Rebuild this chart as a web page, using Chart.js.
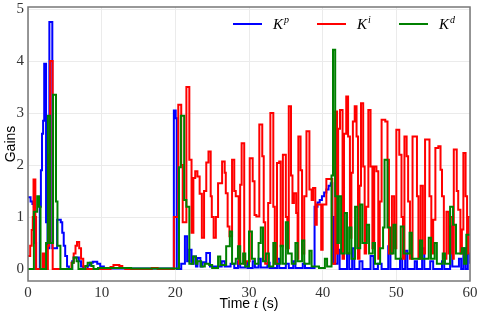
<!DOCTYPE html>
<html>
<head>
<meta charset="utf-8">
<script src="https://cdn.jsdelivr.net/npm/chart.js@4"></script>
<style>
  html, body { margin: 0; padding: 0; background: #fff; }
  #wrap { width: 478px; height: 316px; }
</style>
</head>
<body>
<div id="wrap"><canvas id="gains" width="478" height="316"></canvas></div>
<script>
// gain schedules, [time (s), gain]; each value holds until the next time
const kpSteps = [
  [0,1.38],[0.35,1.3],[0.6,1.25],[0.8,1.2],[0.95,0.5],[1.1,0],[1.6,1.2],[1.75,1.9],[1.9,2.6],[2.05,2.85],
  [2.2,3.95],[2.45,0.9],[2.65,0.4],[2.9,4.75],[3.3,0.4],[3.95,0.95],[4.45,0.9],[4.65,0.7],[4.85,0.45],
  [5.05,0.25],[5.3,0.05],[5.55,0],[6.0,0.15],[6.2,0.22],[6.9,0.15],[7.2,0.05],[7.5,0],[8.1,0.07],[8.4,0.12],
  [8.8,0.14],[9.4,0.1],[9.8,0.05],[10.3,0.02],[10.8,0.01],[19.8,3.05],[20.05,2.9],[20.2,0],[20.8,0.1],
  [21.3,0.63],[21.6,0.15],[21.9,0.37],[22.2,0.1],[22.5,0.24],[22.8,0.05],[23.0,0.21],[23.4,0.05],[23.7,0.13],
  [24.2,0.31],[24.7,0.05],[26.3,0.15],[26.7,0.05],[27.5,0.1],[28,0.02],[28.5,0.15],[28.8,0.03],[29.5,0.12],
  [29.8,0.02],[30.5,0.15],[30.8,0.03],[31.3,0.2],[31.6,0.03],[32.5,0.12],[32.8,0.02],[33.8,0.2],[34.1,0.02],
  [35.0,0.1],[35.4,0.02],[36.0,0.15],[36.3,0.02],[37.3,0.1],[37.6,0.02],[38.9,1.2],[39.3,1.28],[39.6,1.33],
  [39.9,1.4],[40.2,1.47],[40.5,1.53],[40.8,1.6],[41.1,1.65],[41.3,1.0],[41.5,0.1],[42.0,0.37],[42.3,0.0],
  [43.3,0.3],[43.6,0.0],[44.0,0.4],[44.3,0.0],[45.0,0.15],[45.4,0.0],[46.5,0.25],[46.9,0.0],[47.5,0.1],
  [48.0,0.0],[48.9,0.44],[49.2,0.0],[50.5,0.2],[50.8,0.0],[51.2,0.35],[51.5,0.0],[52.5,0.15],[52.8,0.0],
  [53.5,0.4],[53.8,0.0],[54.6,0.15],[55,0.0],[56.2,0.15],[56.5,0.0],[57.3,0.82],[57.6,0.05],[58.5,0.2],
  [58.8,0.0],[59.1,0.4],[59.4,0.0],[59.7,0.3],[60,0.1]
];

const kiSteps = [
  [0,0.25],[0.3,0.45],[0.5,0.75],[0.65,1.0],[0.75,1.72],[1.0,1.0],[1.1,0],[2.0,0.3],[2.25,0],[2.7,0.45],
  [2.85,2.2],[3.0,4.0],[3.35,0],[5.9,0.12],[6.2,0.3],[6.45,0.45],[6.65,0.52],[6.95,0.4],[7.2,0.2],[7.5,0.05],
  [7.8,0],[11.2,0.04],[11.6,0.08],[12.4,0.06],[12.8,0.02],[13.2,0],[16.8,0.02],[17.6,0],
  [19.8,1.0],[20.4,3.16],[20.8,2.0],[21.0,0.9],[21.5,3.5],[21.9,2.1],[22.2,0.7],[22.45,1.75],[22.7,1.88],
  [23.0,1.78],[23.3,1.45],[23.6,0.6],[23.9,1.5],[24.2,2.05],[24.5,2.26],[24.8,1.4],[24.95,1.0],[25.2,0.6],
  [25.5,1.0],[25.8,1.65],[26.35,2.07],[26.7,1.85],[26.85,1.46],[27.1,0.82],[27.35,0.63],[27.7,2.1],[28.0,1.5],
  [28.2,1.4],[28.6,0.1],[28.8,1.62],[29.0,2.42],[29.35,0.1],[29.6,0.15],[30.1,2.13],[30.5,1.69],[30.75,1.04],
  [31.0,1.01],[31.4,2.78],[31.8,2.17],[32.0,0.9],[32.2,0.1],[32.6,1.27],[32.9,3.0],[33.3,1.2],[33.5,0.1],
  [33.8,2.04],[34.1,2.07],[34.3,0.44],[34.6,2.2],[35.0,1.0],[35.2,0.4],[35.4,3.13],[35.7,1.8],[35.9,1.27],
  [36.1,1.46],[36.4,1.08],[36.6,0.2],[36.7,2.55],[37.0,1.9],[37.2,0.3],[37.5,1.4],[37.8,2.65],[38.2,1.53],
  [38.5,1.33],[38.7,1.56],[39.0,0.85],[39.2,1.24],[39.8,0.37],[40.0,1.24],[40.5,1.73],[41.3,0.1],
  [41.7,3.03],[41.95,0.3],[42.1,2.7],[42.35,3.06],[42.7,0.2],[42.9,2.6],[43.2,3.32],[43.45,2.55],[43.7,0.6],
  [43.9,1.85],[44.1,2.84],[44.35,3.13],[44.6,2.55],[44.8,0.2],[45.0,1.6],[45.2,3.19],[45.5,1.97],[45.7,0.3],
  [45.9,1.2],[46.2,3.06],[46.5,1.97],[46.75,0.4],[47.0,1.97],[47.3,1.88],[47.55,0.2],[47.75,1.3],[48.0,2.87],
  [48.5,2.84],[48.8,2.1],[49.0,0.3],[49.4,1.4],[49.7,0.4],[50.0,2.68],[50.4,2.2],[50.7,1.0],[50.9,0.2],
  [51.1,2.55],[51.4,2.17],[51.6,1.3],[51.85,0.2],[52.2,2.55],[52.8,1.4],[53.0,0.2],[53.3,1.6],[53.6,0.3],
  [53.9,2.49],[54.5,1.4],[54.75,0.3],[55.0,0.95],[55.3,2.33],[55.7,2.36],[56.0,1.91],[56.2,1.4],[56.45,0.2],
  [56.8,1.1],[57.1,0.3],[57.4,1.0],[57.7,0.2],[57.8,2.3],[58.2,1.5],[58.4,1.14],[58.7,0.3],[58.9,0.76],
  [59.1,2.23],[59.4,1.4],[59.6,0.3],[59.8,1.0],[60,1.0]
];

const kdSteps = [
  [0,0],[0.8,1.1],[1.25,1.4],[1.5,1.2],[1.7,0],[2.45,0.5],[2.7,2.95],[3.0,0.5],[3.4,3.35],[3.8,1.3],[4.0,0.45],
  [4.4,0],[6.0,0.12],[6.2,0.22],[6.6,0.15],[6.85,0],[7.8,0.06],[8.1,0.12],[8.6,0.06],[8.9,0],[9.5,0.02],
  [14,0.01],[20.5,1.96],[20.75,2.95],[21.2,1.33],[21.5,1.2],[21.9,0.1],[22.4,0.24],[22.8,0.1],[23.0,0.15],
  [23.5,0.05],[24.0,0.1],[24.6,0.08],[25.0,0.02],[25.8,0.24],[26.1,0.08],[26.9,0.44],[27.4,0.72],[27.7,0.1],
  [28.2,0.2],[28.5,0.44],[28.8,0.1],[29.2,0.3],[29.5,0.05],[30.0,0.72],[30.4,0.2],[30.8,0.1],[31.3,0.5],
  [31.6,0.8],[31.9,0.15],[32.3,0.3],[32.7,0.05],[33.3,0.5],[33.6,0.1],[34.3,0.45],[34.6,0.1],[35.0,0.9],
  [35.3,0.3],[35.8,0.1],[36.3,0.5],[36.6,0.15],[37.2,0.55],[37.5,0.1],[38.2,0.35],[38.5,0.05],[39.5,0.02],
  [40.3,0.2],[40.6,0.05],[41.2,1.8],[41.4,4.22],[41.7,1.4],[42.0,0.5],[42.2,1.4],[42.5,0.3],[43.0,1.08],
  [43.3,0.3],[43.6,0.8],[43.9,0.2],[44.4,1.2],[44.7,0.4],[45.1,1.24],[45.4,0.5],[46.0,0.85],[46.3,0.3],
  [46.8,0.5],[47.1,0.1],[47.8,0.4],[48.2,0.8],[48.4,2.1],[48.8,0.8],[49.2,0.3],[49.6,0.85],[49.9,0.2],
  [50.6,0.82],[51.0,0.3],[51.8,0.7],[52.1,0.2],[53.2,0.55],[53.5,0.2],[54.4,0.6],[54.7,0.2],[55.2,0.5],
  [55.5,0.1],[56.3,0.3],[56.6,0.1],[57.3,1.2],[57.7,0.85],[58.1,0.3],[58.9,0.4],[59.2,0.1],[59.5,0.66],[60,0.66]
];

const xTicks = [0, 10, 20, 30, 40, 50, 60];
const yTicks = [0, 1, 2, 3, 4, 5];

const series = [
  { sup: 'p', steps: kpSteps, color: '#0000ff', order: 2 },
  { sup: 'i', steps: kiSteps, color: '#ff0000', order: 1 },
  { sup: 'd', steps: kdSteps, color: '#008000', order: 0 }
];

const tickFont = { family: "'Liberation Serif', serif", size: 15 };

// plot frame, axis titles and the legend (K with superscripts)
const decorations = {
  id: 'decorations',
  afterDraw(chart) {
    const { ctx, chartArea: a } = chart;
    ctx.save();
    ctx.strokeStyle = '#777';
    ctx.lineWidth = 1.5;
    ctx.strokeRect(a.left, a.top, a.right - a.left, a.bottom - a.top);

    ctx.fillStyle = '#000';
    ctx.textBaseline = 'middle';
    // y title
    ctx.save();
    ctx.translate(11, (a.top + a.bottom) / 2);
    ctx.rotate(-Math.PI / 2);
    ctx.textAlign = 'center';
    ctx.font = "14px 'Liberation Sans', sans-serif";
    ctx.fillText('Gains', 0, 0);
    ctx.restore();

    // x title: Time t (s)
    const parts = [
      ['Time ', "14px 'Liberation Sans', sans-serif"],
      ['t', "italic 15px 'Liberation Serif', serif"],
      [' (s)', "14px 'Liberation Sans', sans-serif"]
    ];
    let w = 0;
    parts.forEach(p => { ctx.font = p[1]; w += ctx.measureText(p[0]).width; });
    let x = (a.left + a.right) / 2 - w / 2;
    ctx.textAlign = 'left';
    parts.forEach(p => { ctx.font = p[1]; ctx.fillText(p[0], x, 304); x += ctx.measureText(p[0]).width; });

    // legend
    const starts = [233, 317, 399];
    chart.data.datasets.forEach((ds, i) => {
      const lx = starts[i];
      ctx.strokeStyle = ds.borderColor;
      ctx.lineWidth = 2;
      ctx.beginPath();
      ctx.moveTo(lx, 24);
      ctx.lineTo(lx + 29, 24);
      ctx.stroke();
      ctx.fillStyle = '#000';
      ctx.font = "italic 15px 'Liberation Serif', serif";
      ctx.fillText('K', lx + 40, 25);
      const kw = ctx.measureText('K').width;
      ctx.font = "italic 10px 'Liberation Serif', serif";
      ctx.fillText(series[i].sup, lx + 40 + kw + 1, 20);
    });
    ctx.restore();
  }
};

new Chart(document.getElementById('gains'), {
  type: 'line',
  data: {
    datasets: series.map(s => ({
      label: 'K' + s.sup,
      data: s.steps.map(p => ({ x: p[0], y: p[1] })),
      borderColor: s.color,
      backgroundColor: s.color,
      borderWidth: 2,
      stepped: true,
      pointRadius: 0,
      fill: false,
      order: s.order
    }))
  },
  options: {
    responsive: false,
    animation: false,
    devicePixelRatio: 1,
    layout: { padding: { top: 0, right: 0, left: 0, bottom: 0 } },
    plugins: { legend: { display: false }, tooltip: { enabled: false } },
    scales: {
      x: {
        type: 'linear',
        min: 0, max: 60,
        afterFit(scale) { scale.height = 35; scale.paddingRight = 8; scale.paddingLeft = 0; },
        afterBuildTicks(scale) { scale.ticks = xTicks.map(v => ({ value: v })); },
        grid: { color: '#ebebeb', lineWidth: 1, drawTicks: false },
        border: { display: false },
        ticks: { font: tickFont, color: '#333', padding: 3, maxRotation: 0 }
      },
      y: {
        min: -0.23, max: 5.04,
        afterFit(scale) { scale.width = 28; scale.paddingTop = 7; scale.paddingBottom = 0; },
        afterBuildTicks(scale) { scale.ticks = yTicks.map(v => ({ value: v })); },
        grid: { color: '#ebebeb', lineWidth: 1, drawTicks: false },
        border: { display: false },
        ticks: { font: tickFont, color: '#333', padding: 4 }
      }
    }
  },
  plugins: [decorations]
});
</script>
</body>
</html>
